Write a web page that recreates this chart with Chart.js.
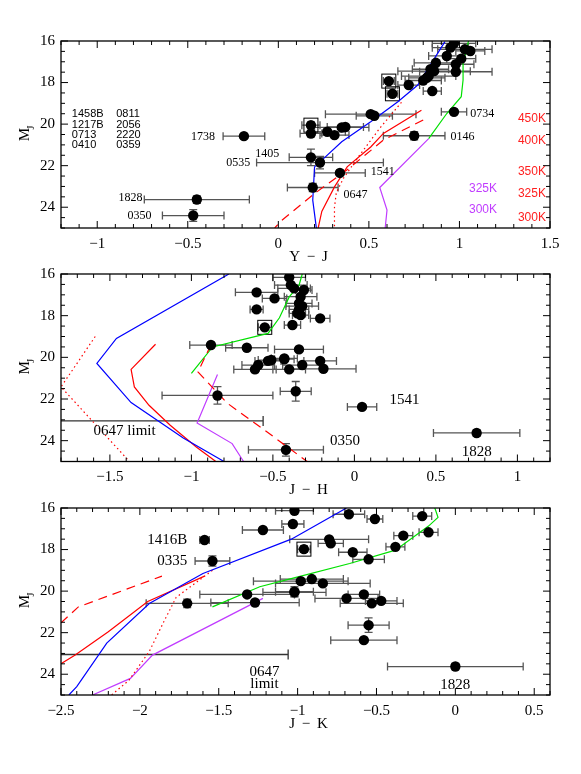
<!DOCTYPE html>
<html>
<head>
<meta charset="utf-8">
<script src="https://cdn.jsdelivr.net/npm/chart.js@4.4.1/dist/chart.umd.min.js"></script>
<style>
  body { margin: 0; background: #fff; }
  .panel { position: absolute; left: 0; width: 581px; }
</style>
</head>
<body>
<div class="panel" style="top:0;height:264px"><canvas id="c1"></canvas></div>
<div class="panel" style="top:244px;height:256px"><canvas id="c2"></canvas></div>
<div class="panel" style="top:478px;height:296px"><canvas id="c3"></canvas></div>
<script>
// ---- data ----
// points: [colour, M_J, colour error, M_J error]
const yjPoints = [
  [-0.19, 20.58, 0.115, 0.12], [-0.45, 23.63, 0.29, 0.18], [-0.47, 24.40, 0.17, 0.28],
  [0.18, 21.60, 0.12, 0.40], [0.23, 21.85, 0.35, 0.30], [0.34, 22.35, 0.14, 0.12],
  [0.19, 23.05, 0.14, 0.20], [0.18, 20.05, 0.05, 0.15], [0.18, 20.45, 0.06, 0.15],
  [0.27, 20.37, 0.10, 0.10], [0.31, 20.53, 0.08, 0.10], [0.35, 20.16, 0.15, 0.10],
  [0.37, 20.14, 0.10, 0.10], [0.51, 19.52, 0.25, 0.12], [0.53, 19.60, 0.10, 0.10],
  [0.75, 20.56, 0.17, 0.20], [0.97, 19.41, 0.07, 0.12], [0.61, 17.93, 0.03, 0.10],
  [0.63, 18.54, 0.03, 0.10], [0.72, 18.12, 0.06, 0.05], [0.80, 17.90, 0.10, 0.10],
  [0.85, 18.41, 0.05, 0.10], [0.83, 17.69, 0.15, 0.10], [0.86, 17.45, 0.20, 0.10],
  [0.84, 17.36, 0.10, 0.10], [0.87, 17.05, 0.12, 0.10], [0.93, 16.72, 0.10, 0.10],
  [0.98, 17.12, 0.10, 0.10], [0.98, 17.48, 0.20, 0.10], [1.01, 16.85, 0.08, 0.10],
  [0.95, 16.32, 0.10, 0.10], [0.97, 16.11, 0.12, 0.10], [1.03, 16.40, 0.15, 0.10],
  [1.06, 16.48, 0.08, 0.10], [0.82, 17.77, 0.10, 0.10]
];
const yjBoxed = [7, 17, 18];

const jhPoints = [
  [-0.60, 16.88, 0.13, 0.10], [-0.49, 17.17, 0.075, 0.10], [-0.60, 17.70, 0.04, 0.10],
  [-0.55, 18.56, 0.04, 0.10], [-0.88, 19.41, 0.13, 0.10], [-0.66, 19.54, 0.13, 0.10],
  [-0.53, 20.17, 0.08, 0.10], [-0.43, 20.09, 0.06, 0.10], [-0.59, 20.37, 0.10, 0.10],
  [-0.61, 20.58, 0.13, 0.15], [-0.40, 20.58, 0.10, 0.10], [-0.84, 21.83, 0.34, 0.42],
  [-0.36, 21.63, 0.095, 0.47], [-0.42, 24.44, 0.23, 0.30], [0.047, 22.38, 0.09, 0.10],
  [0.75, 23.63, 0.265, 0.15], [-0.40, 16.16, 0.10, 0.10], [-0.39, 16.53, 0.10, 0.10],
  [-0.37, 16.69, 0.10, 0.10], [-0.31, 16.77, 0.05, 0.10], [-0.33, 17.09, 0.10, 0.10],
  [-0.34, 17.41, 0.08, 0.10], [-0.32, 17.54, 0.10, 0.10], [-0.34, 17.70, 0.06, 0.10],
  [-0.35, 17.89, 0.05, 0.10], [-0.33, 17.97, 0.05, 0.10], [-0.21, 18.13, 0.06, 0.10],
  [-0.38, 18.45, 0.05, 0.10], [-0.34, 19.62, 0.15, 0.10], [-0.43, 20.05, 0.08, 0.10],
  [-0.51, 20.13, 0.08, 0.10], [-0.32, 20.37, 0.12, 0.10], [-0.21, 20.17, 0.10, 0.10],
  [-0.19, 20.55, 0.20, 0.10]
];
const jhBoxed = [3];

const jkPoints = [
  [-1.59, 17.54, 0.03, 0.06], [-1.54, 18.55, 0.11, 0.25], [-1.22, 17.06, 0.13, 0.10],
  [-1.02, 16.13, 0.12, 0.08], [-1.03, 16.77, 0.07, 0.10], [-1.70, 20.59, 0.26, 0.20],
  [-1.32, 20.16, 0.30, 0.10], [-1.27, 20.55, 0.28, 0.10], [-1.02, 20.03, 0.12, 0.25],
  [-0.675, 16.30, 0.10, 0.10], [-0.51, 16.53, 0.05, 0.10], [-0.21, 16.39, 0.06, 0.10],
  [-0.17, 17.17, 0.06, 0.10], [-0.33, 17.33, 0.06, 0.10], [-0.80, 17.51, 0.25, 0.10],
  [-0.79, 17.70, 0.08, 0.10], [-0.38, 17.87, 0.06, 0.10], [-0.96, 17.98, 0.04, 0.15],
  [-0.65, 18.13, 0.09, 0.10], [-0.55, 18.47, 0.10, 0.10], [-0.98, 19.52, 0.30, 0.10],
  [-0.91, 19.42, 0.20, 0.10], [-0.84, 19.63, 0.30, 0.10], [-1.02, 20.06, 0.20, 0.20],
  [-0.69, 20.35, 0.20, 0.10], [-0.58, 20.16, 0.10, 0.10], [-0.53, 20.59, 0.20, 0.10],
  [-0.47, 20.47, 0.10, 0.10], [-0.55, 21.64, 0.13, 0.35], [-0.58, 22.36, 0.21, 0.10],
  [0.00, 23.63, 0.43, 0.15]
];
const jkBoxed = [17];

// model tracks [colour, M_J]
const yjBlue = [[0.92, 16.03], [0.77, 18.12], [0.66, 18.92], [0.51, 19.89], [0.35, 20.85], [0.20, 22.06], [0.19, 23.66], [0.21, 25.0]];
const yjRed = [[0.79, 19.33], [0.58, 20.45], [0.51, 21.10], [0.38, 22.06], [0.31, 23.02], [0.24, 24.2], [0.22, 25.0]];
const yjRedDash = [[0.80, 19.80], [0.58, 20.77], [0.38, 22.20], [0.20, 23.34], [0.01, 24.70], [-0.02, 25.0]];
const yjRedDot = [[0.68, 18.95], [0.56, 20.20], [0.44, 21.60], [0.36, 22.60], [0.32, 23.30], [0.31, 24.0], [0.31, 25.0]];
const yjGreen = [[1.05, 16.0], [1.02, 17.08], [1.02, 17.88], [1.01, 18.68], [0.93, 19.49], [0.83, 20.70]];
const yjPurple = [[0.83, 20.70], [0.56, 23.05], [0.60, 24.14], [0.59, 25.0]];

const jhBlue = [[-0.77, 16.0], [-1.46, 19.09], [-1.58, 20.29], [-1.37, 22.17], [-1.05, 23.87], [-0.80, 25.0]];
const jhRed = [[-1.22, 19.37], [-1.37, 20.58], [-1.35, 21.42], [-1.26, 22.30], [-1.13, 23.26], [-0.97, 24.30], [-0.85, 25.0]];
const jhRedDash = [[-0.88, 19.40], [-0.96, 20.70], [-0.78, 22.20], [-0.55, 23.50], [-0.29, 25.0]];
const jhRedDot = [[-1.59, 19.0], [-1.80, 21.42], [-1.38, 25.0]];
const jhGreen = [[-1.00, 20.77], [-0.87, 19.50], [-0.53, 18.85], [-0.46, 18.10], [-0.40, 17.10], [-0.34, 16.55], [-0.32, 16.0]];
const jhPurple = [[-0.84, 20.82], [-0.965, 23.15], [-0.75, 24.14], [-0.68, 25.0]];

const jkBlue = [[-2.45, 25.0], [-2.40, 24.6], [-2.21, 22.5], [-1.94, 20.6], [-1.60, 19.15], [-1.04, 17.5], [-0.69, 16.0]];
const jkRed = [[-2.50, 23.49], [-2.41, 23.08], [-2.20, 21.96], [-1.95, 20.50], [-1.59, 19.28]];
const jkRedDash = [[-2.50, 21.53], [-2.39, 20.76], [-1.86, 19.28]];
const jkRedDot = [[-1.54, 19.0], [-1.77, 20.3], [-1.85, 21.5], [-1.94, 22.9], [-2.07, 24.3], [-2.18, 25.0]];
const jkGreen = [[-1.54, 20.76], [-1.24, 19.79], [-1.01, 19.34], [-0.67, 18.67], [-0.38, 18.03], [-0.17, 16.87], [-0.11, 16.45], [-0.13, 16.0]];
const jkPurple = [[-1.22, 20.35], [-1.92, 23.08], [-2.06, 24.2], [-2.30, 25.0]];

// 0647 upper limit: [M_J, colour reached]
const jhLimit = [23.05, -0.56];
const jkLimit = [23.05, -1.06];

// tick values
const magTicks = [16, 18, 20, 22, 24];
const yjTicks = [-1, -0.5, 0, 0.5, 1, 1.5];
const jhTicks = [-1.5, -1, -0.5, 0, 0.5, 1];
const jkTicks = [-2.5, -2, -1.5, -1, -0.5, 0, 0.5];

// text annotations [text, x, M_J, align, kind]
const yjLabels = [
  ['1738', -0.35, 20.6, 'right', 'pt'], ['1405', -0.127, 21.41, 'left', 'pt'],
  ['0535', -0.155, 21.86, 'right', 'pt'], ['1828', -0.75, 23.53, 'right', 'pt'],
  ['0350', -0.70, 24.42, 'right', 'pt'], ['1541', 0.51, 22.3, 'left', 'pt'],
  ['0647', 0.36, 23.42, 'left', 'pt'], ['0146', 0.95, 20.61, 'left', 'pt'],
  ['0734', 1.06, 19.5, 'left', 'pt'],
  ['1458B', -1.14, 19.49, 'left', 'list'], ['1217B', -1.14, 20.02, 'left', 'list'],
  ['0713', -1.14, 20.53, 'left', 'list'], ['0410', -1.14, 21.01, 'left', 'list'],
  ['0811', -0.895, 19.49, 'left', 'list'], ['2056', -0.895, 20.02, 'left', 'list'],
  ['2220', -0.895, 20.53, 'left', 'list'], ['0359', -0.895, 21.01, 'left', 'list'],
  ['450K', 1.40, 19.73, 'center', 'red'], ['400K', 1.40, 20.8, 'center', 'red'],
  ['350K', 1.40, 22.3, 'center', 'red'], ['325K', 1.40, 23.34, 'center', 'red'],
  ['300K', 1.40, 24.5, 'center', 'red'],
  ['325K', 1.13, 23.1, 'center', 'purple'], ['300K', 1.13, 24.14, 'center', 'purple']
];
const jhLabels = [
  ['0647 limit', -1.60, 23.55, 'left', 'big'], ['1541', 0.215, 22.06, 'left', 'big'],
  ['0350', -0.15, 24.0, 'left', 'big'], ['1828', 0.75, 24.56, 'center', 'big']
];
const jkLabels = [
  ['1416B', -1.70, 17.54, 'right', 'big'], ['0335', -1.70, 18.55, 'right', 'big'],
  ['0647', -1.21, 23.89, 'center', 'big'], ['limit', -1.21, 24.45, 'center', 'big'],
  ['1828', 0.0, 24.53, 'center', 'big']
];

// ---- drawing ----
const SERIF = '"Liberation Serif", "DejaVu Serif", serif';
const SANS = '"Liberation Sans", Arial, sans-serif';
const labelFonts = {
  pt: ['12px ' + SERIF, '#000'], list: ['11px ' + SANS, '#000'],
  red: ['12px ' + SANS, '#ff2020'], purple: ['12px ' + SANS, '#c03cff'],
  big: ['15px ' + SERIF, '#000']
};

function fmt(v) {
  return v < 0 ? '\u2212' + Math.abs(v) : String(v);
}

function decor(cfg) {
  return {
    id: 'decor',
    beforeDatasetsDraw(chart) {
      const { ctx, chartArea: a, scales: { x, y } } = chart;
      ctx.save();
      ctx.beginPath();
      ctx.rect(a.left, a.top, a.right - a.left, a.bottom - a.top);
      ctx.clip();
      ctx.strokeStyle = '#555';
      ctx.lineWidth = 1.3;
      cfg.points.forEach(([px, py, ex, ey]) => {
        const x0 = x.getPixelForValue(px - ex), x1 = x.getPixelForValue(px + ex);
        const y0 = y.getPixelForValue(py - ey), y1 = y.getPixelForValue(py + ey);
        const cx = x.getPixelForValue(px), cy = y.getPixelForValue(py);
        ctx.beginPath();
        ctx.moveTo(x0, cy); ctx.lineTo(x1, cy);
        ctx.moveTo(x0, cy - 4); ctx.lineTo(x0, cy + 4);
        ctx.moveTo(x1, cy - 4); ctx.lineTo(x1, cy + 4);
        ctx.moveTo(cx, y0); ctx.lineTo(cx, y1);
        ctx.moveTo(cx - 4, y0); ctx.lineTo(cx + 4, y0);
        ctx.moveTo(cx - 4, y1); ctx.lineTo(cx + 4, y1);
        ctx.stroke();
      });
      ctx.strokeStyle = '#000';
      ctx.lineWidth = 1;
      cfg.boxed.forEach(i => {
        const cx = x.getPixelForValue(cfg.points[i][0]), cy = y.getPixelForValue(cfg.points[i][1]);
        ctx.strokeRect(cx - 7, cy - 7, 14, 14);
      });
      if (cfg.limit) {
        const ly = y.getPixelForValue(cfg.limit[0]), lx = x.getPixelForValue(cfg.limit[1]);
        ctx.strokeStyle = '#333';
        ctx.lineWidth = 1.3;
        ctx.beginPath();
        ctx.moveTo(a.left, ly); ctx.lineTo(lx, ly);
        ctx.moveTo(lx, ly - 5); ctx.lineTo(lx, ly + 5);
        ctx.stroke();
      }
      ctx.restore();
    },
    afterDraw(chart) {
      const { ctx, chartArea: a, scales: { x, y } } = chart;
      ctx.save();
      // frame
      ctx.strokeStyle = '#000';
      ctx.lineWidth = 1.3;
      ctx.strokeRect(a.left, a.top, a.right - a.left, a.bottom - a.top);
      // inward ticks, major and minor
      ctx.lineWidth = 1;
      ctx.beginPath();
      for (let k = Math.ceil(x.min * 10 - 1e-6); k <= x.max * 10 + 1e-6; k++) {
        const px = x.getPixelForValue(k / 10);
        const len = k % 5 === 0 ? 7 : 4;
        ctx.moveTo(px, a.bottom); ctx.lineTo(px, a.bottom - len);
        ctx.moveTo(px, a.top); ctx.lineTo(px, a.top + len);
      }
      for (let k = Math.ceil(y.min * 2); k <= y.max * 2; k++) {
        const py = y.getPixelForValue(k / 2);
        const len = k % 4 === 0 ? 7 : 4;
        ctx.moveTo(a.left, py); ctx.lineTo(a.left + len, py);
        ctx.moveTo(a.right, py); ctx.lineTo(a.right - len, py);
      }
      ctx.stroke();
      // annotations
      ctx.textBaseline = 'middle';
      cfg.labels.forEach(([t, lx, ly, align, kind]) => {
        ctx.font = labelFonts[kind][0];
        ctx.fillStyle = labelFonts[kind][1];
        ctx.textAlign = align;
        ctx.fillText(t, x.getPixelForValue(lx), y.getPixelForValue(ly));
      });
      // axis titles
      ctx.fillStyle = '#000';
      ctx.font = '15px ' + SERIF;
      ctx.textAlign = 'center';
      ctx.fillText(cfg.xTitle, (a.left + a.right) / 2 + 3, a.bottom + 29);
      ctx.translate(a.left - 36, (a.top + a.bottom) / 2);
      ctx.rotate(-Math.PI / 2);
      ctx.font = '15px ' + SERIF;
      ctx.fillText('M', 0, 0);
      ctx.font = '10px ' + SERIF;
      ctx.fillText('J', 7, 6);
      ctx.restore();
    }
  };
}

function track(data, color, dash) {
  return {
    data: data.map(([px, py]) => ({ x: px, y: py })),
    showLine: true, borderColor: color, borderWidth: 1.2, borderDash: dash,
    pointRadius: 0, fill: false, tension: 0
  };
}

function makePanel(id, cfg) {
  new Chart(document.getElementById(id), {
    type: 'scatter',
    data: {
      datasets: [
        { data: cfg.points.map(p => ({ x: p[0], y: p[1] })), pointRadius: 5.2,
          backgroundColor: '#000', borderWidth: 0 },
        track(cfg.tracks[0], '#0000ff', []),
        track(cfg.tracks[1], '#ff0000', []),
        track(cfg.tracks[2], '#ff0000', [9, 6]),
        track(cfg.tracks[3], '#ff0000', [1.5, 3]),
        track(cfg.tracks[4], '#00e000', []),
        track(cfg.tracks[5], '#c03cff', [])
      ]
    },
    options: {
      responsive: true, maintainAspectRatio: false, animation: false,
      layout: { padding: { top: cfg.padTop, right: 31, left: 0, bottom: 0 } },
      plugins: { legend: { display: false }, tooltip: { enabled: false } },
      scales: {
        x: {
          type: 'linear', min: cfg.xMin, max: cfg.xMax,
          grid: { display: false, drawTicks: false }, border: { display: false },
          afterBuildTicks: s => { s.ticks = cfg.xTicks.map(v => ({ value: v })); },
          afterFit: s => { s.height = cfg.xHeight; },
          ticks: { color: '#000', padding: 7, maxRotation: 0, autoSkip: false,
                   font: { family: SERIF, size: 15 }, callback: v => fmt(v) }
        },
        y: {
          type: 'linear', min: 16, max: 25, reverse: true,
          grid: { display: false, drawTicks: false }, border: { display: false },
          afterBuildTicks: s => { s.ticks = magTicks.map(v => ({ value: v })); },
          afterFit: s => { s.width = 61; },
          ticks: { color: '#000', padding: 6, autoSkip: false,
                   font: { family: SERIF, size: 15 }, callback: v => String(v) }
        }
      }
    },
    plugins: [decor(cfg)]
  });
}

makePanel('c1', {
  points: yjPoints, boxed: yjBoxed, labels: yjLabels, xTitle: 'Y \u2009\u2212\u2009 J',
  tracks: [yjBlue, yjRed, yjRedDash, yjRedDot, yjGreen, yjPurple],
  xMin: -1.2, xMax: 1.5, xTicks: yjTicks, padTop: 41, xHeight: 36
});
makePanel('c2', {
  points: jhPoints, boxed: jhBoxed, labels: jhLabels, xTitle: 'J \u2009\u2212\u2009 H', limit: jhLimit,
  tracks: [jhBlue, jhRed, jhRedDash, jhRedDot, jhGreen, jhPurple],
  xMin: -1.8, xMax: 1.2, xTicks: jhTicks, padTop: 30, xHeight: 38.5
});
makePanel('c3', {
  points: jkPoints, boxed: jkBoxed, labels: jkLabels, xTitle: 'J \u2009\u2212\u2009 K', limit: jkLimit,
  tracks: [jkBlue, jkRed, jkRedDash, jkRedDot, jkGreen, jkPurple],
  xMin: -2.5, xMax: 0.6, xTicks: jkTicks, padTop: 30, xHeight: 79
});
</script>
</body>
</html>
